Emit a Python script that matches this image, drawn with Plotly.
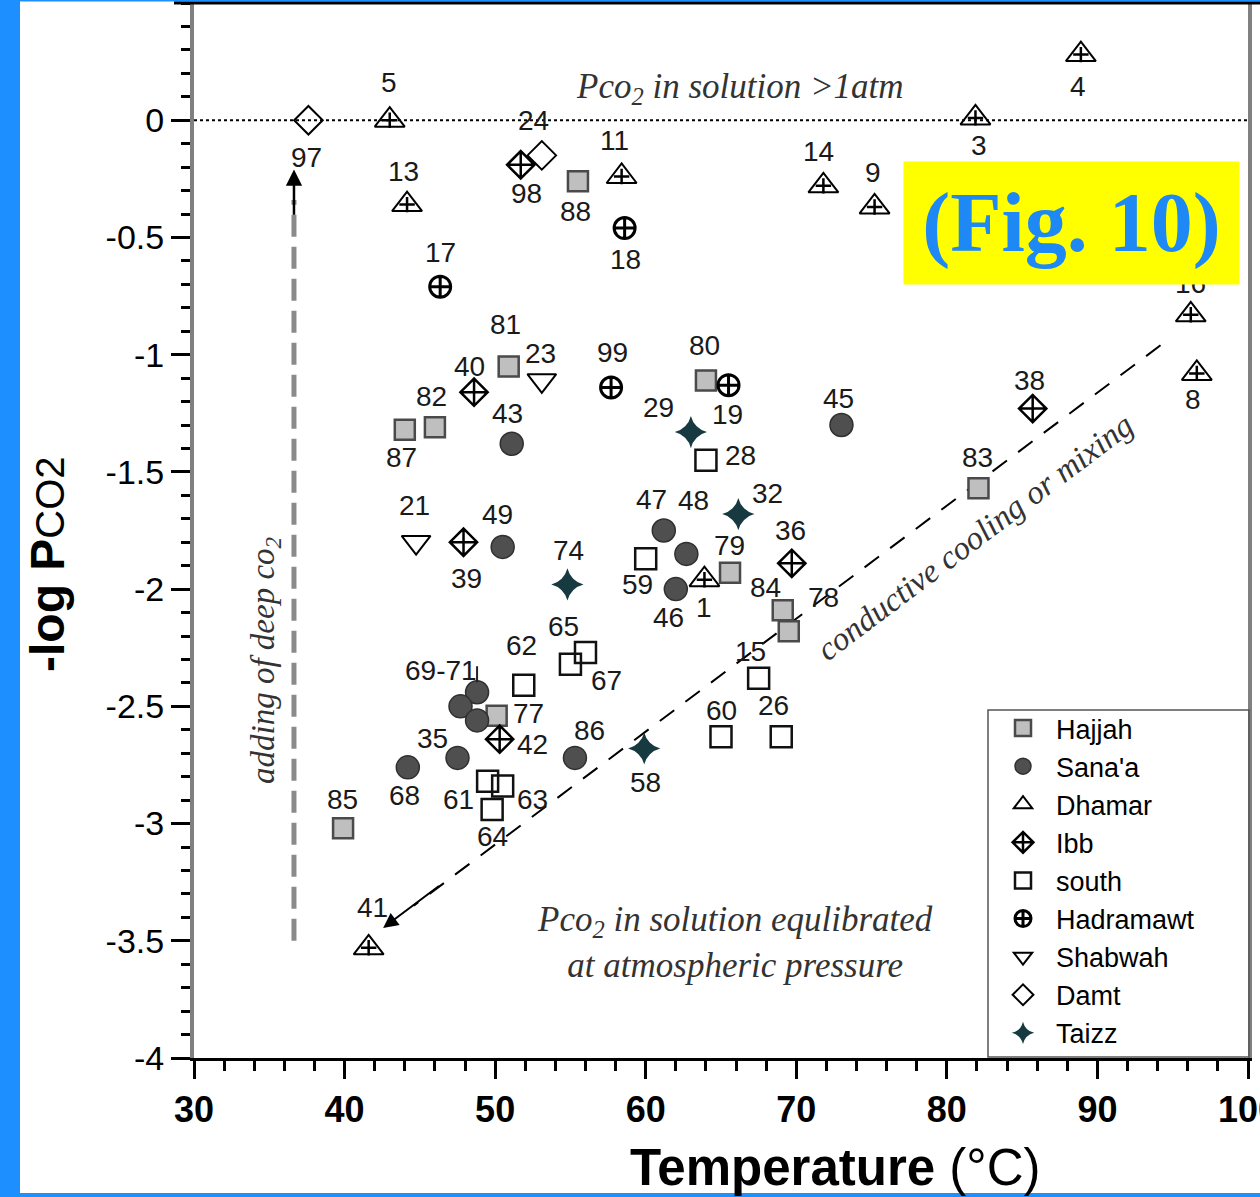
import plotly.graph_objects as go

# ---------------- data ----------------
hajjah_ids = ["88", "81", "82", "87", "80", "79", "84", "78", "83", "77", "85"]
hajjah_t = [55.5, 50.9, 46.0, 44.0, 64.0, 65.6, 69.1, 69.5, 82.1, 50.1, 39.9]
hajjah_p = [-0.26, -1.05, -1.31, -1.32, -1.11, -1.93, -2.09, -2.18, -1.57, -2.54, -3.02]

sanaa_ids = ["43", "49", "47", "48", "46", "45", "69", "70", "71", "35", "68", "86"]
sanaa_t = [51.1, 50.5, 61.2, 62.7, 62.0, 73.0, 48.8, 47.7, 48.8, 47.5, 44.2, 55.3]
sanaa_p = [-1.38, -1.82, -1.75, -1.85, -2.00, -1.30, -2.44, -2.50, -2.56, -2.72, -2.76, -2.72]

dhamar_ids = ["5", "13", "11", "14", "9", "3", "4", "16", "8", "1", "41"]
dhamar_t = [43.0, 44.15, 58.4, 71.8, 75.2, 81.9, 88.9, 96.2, 96.6, 63.9, 41.6]
dhamar_p = [0.0, -0.36, -0.24, -0.28, -0.37, 0.01, 0.28, -0.83, -1.08, -1.96, -3.53]

ibb_ids = ["98", "40", "39", "42", "36", "38"]
ibb_t = [51.7, 48.6, 47.9, 50.3, 69.7, 85.7]
ibb_p = [-0.19, -1.16, -1.80, -2.64, -1.89, -1.23]

south_ids = ["28", "59", "65", "67", "62", "61", "63", "64", "15", "60", "26"]
south_t = [64.0, 60.0, 56.0, 55.0, 51.9, 49.5, 50.5, 49.8, 67.5, 65.0, 69.0]
south_p = [-1.45, -1.87, -2.27, -2.32, -2.41, -2.82, -2.84, -2.94, -2.38, -2.63, -2.63]

hadramawt_ids = ["18", "17", "99", "19"]
hadramawt_t = [58.6, 46.35, 57.7, 65.5]
hadramawt_p = [-0.46, -0.71, -1.14, -1.13]

shabwah_ids = ["23", "21"]
shabwah_t = [53.1, 44.75]
shabwah_p = [-1.11, -1.80]

damt_ids = ["97", "24"]
damt_t = [37.6, 53.1]
damt_p = [0.0, -0.15]

taizz_ids = ["29", "32", "74", "58"]
taizz_t = [63.0, 66.15, 54.8, 59.9]
taizz_p = [-1.33, -1.68, -1.98, -2.68]

x_tick_vals = [30, 40, 50, 60, 70, 80, 90, 100]
x_tick_text = ["30", "40", "50", "60", "70", "80", "90", "100"]
y_tick_vals = [0, -0.5, -1, -1.5, -2, -2.5, -3, -3.5, -4]
y_tick_text = ["0", "-0.5", "-1", "-1.5", "-2", "-2.5", "-3", "-3.5", "-4"]

# label text overrides (the 69-71 cluster carries one label)
label_text = {"69": "69-71", "70": "", "71": ""}

# ---------------- layout / style ----------------
W, H = 1260, 1197
ML, MR, MT, MB = 194, 12, 3, 139
PW, PH = W - ML - MR, H - MT - MB


def px(xp):
    return (xp - ML) / PW


def py(yp):
    return 1 - (yp - MT) / PH


# label offsets in pixels (dx, dy up)
label_offsets = {
    "88": (-2, -30), "81": (-3, 42), "82": (-3, 31), "87": (-3, -28), "80": (-1, 35),
    "79": (-1, 27), "84": (-17, 23), "78": (35, 34), "83": (-1, 31), "77": (32, 2),
    "85": (-1, 29),
    "43": (-4, 30), "49": (-5, 32), "47": (-12, 31), "48": (7, 53), "46": (-7, -28),
    "45": (-3, 27), "69": (-36, 22), "70": (0, 0), "71": (0, 0), "35": (-25, 19),
    "68": (-3, -28), "86": (15, 27),
    "5": (-1, 38), "13": (-4, 33), "11": (-7, 36), "14": (-5, 34), "9": (-2, 34),
    "3": (4, -28), "4": (-3, -32), "16": (0, 31), "8": (-4, -26), "1": (0, -28),
    "41": (4, 40),
    "98": (6, -29), "40": (-5, 26), "39": (3, -36), "42": (33, -5), "36": (-1, 33),
    "38": (-3, 28),
    "28": (35, 5), "59": (-8, -26), "65": (-22, 26), "67": (36, -16), "62": (-2, 40),
    "61": (-29, -18), "63": (30, -13), "64": (0, -27), "15": (-8, 27), "60": (0, 26),
    "26": (-8, 31),
    "18": (1, -31), "17": (0, 34), "99": (1, 35), "19": (-1, -29),
    "23": (-1, 27), "21": (-2, 37),
    "97": (-2, -37), "24": (-8, 35),
    "29": (-32, 25), "32": (29, 21), "74": (1, 34), "58": (1, -34),
}

series = [
    ("Hajjah", hajjah_ids, hajjah_t, hajjah_p,
     dict(symbol="square", size=20, color="#bfbfbf", line=dict(color="#4a4a4a", width=2.5))),
    ("Sana'a", sanaa_ids, sanaa_t, sanaa_p,
     dict(symbol="circle", size=23, color="#4f4f4f", line=dict(color="#303030", width=1.5))),
    ("Dhamar", dhamar_ids, dhamar_t, dhamar_p,
     dict(symbol="triangle-up-open", size=26, color="black", line=dict(color="black", width=2))),
    ("Ibb", ibb_ids, ibb_t, ibb_p,
     dict(symbol="diamond-cross-open", size=21, color="black", line=dict(color="black", width=2.5))),
    ("south", south_ids, south_t, south_p,
     dict(symbol="square-open", size=21, color="#111111", line=dict(color="#111111", width=2.5))),
    ("Hadramawt", hadramawt_ids, hadramawt_t, hadramawt_p,
     dict(symbol="circle-cross-open", size=21, color="black", line=dict(color="black", width=3))),
    ("Shabwah", shabwah_ids, shabwah_t, shabwah_p,
     dict(symbol="triangle-down-open", size=25, color="black", line=dict(color="black", width=2))),
    ("Damt", damt_ids, damt_t, damt_p,
     dict(symbol="diamond-open", size=22, color="black", line=dict(color="black", width=2))),
    ("Taizz", taizz_ids, taizz_t, taizz_p,
     dict(symbol="star-diamond", size=23, color="#173a40", line=dict(color="#173a40", width=0))),
]

fig = go.Figure()
for name, ids, t, p, mk in series:
    fig.add_trace(go.Scatter(x=t, y=p, mode="markers", name=name, marker=mk,
                             legendgroup=name, hoverinfo="skip"))
    if name == "Dhamar":
        fig.add_trace(go.Scatter(x=t, y=p, mode="markers", showlegend=False,
                                 legendgroup=name, hoverinfo="skip",
                                 marker=dict(symbol="cross-thin-open", size=11, color="black",
                                             line=dict(color="black", width=2.5))))

annotations = []
label_font = dict(family="Liberation Sans, Arial, sans-serif", size=28, color="#1a1a1a")
for name, ids, t, p, mk in series:
    for i, xv, yv in zip(ids, t, p):
        txt = label_text.get(i, i)
        if not txt:
            continue
        dx, dy = label_offsets[i]
        annotations.append(dict(x=xv, y=yv, text=txt, showarrow=False, xshift=dx, yshift=dy,
                                xanchor="center", yanchor="middle", font=label_font))

# leader for 69-71
annotations.append(dict(x=sanaa_t[6], y=sanaa_p[6], text=" ", showarrow=True, ax=0, ay=-30,
                        arrowhead=0, arrowwidth=2, arrowcolor="#222", standoff=10,
                        font=dict(size=4)))

serif_it = dict(family="Liberation Serif, Times New Roman, serif", size=35, color="#333333")


def pa(xp, yp, text, font, **kw):
    d = dict(x=px(xp), y=py(yp), xref="paper", yref="paper", showarrow=False, text=text,
             font=font, xanchor="center", yanchor="middle")
    d.update(kw)
    return d


annotations += [
    pa(740, 88, "<i>Pco<sub>2</sub> in solution >1atm</i>", serif_it),
    pa(735, 942, "<i>Pco<sub>2</sub> in solution equlibrated<br>at atmospheric pressure</i>",
       serif_it, align="center"),
    pa(265, 660, "<i>adding of deep co<sub>2</sub></i>", dict(serif_it, size=33), textangle=-90),
    pa(975, 537, "<i>conductive cooling or mixing</i>", dict(serif_it, size=33), textangle=-37),
    # arrow heads
    dict(x=36.64, y=-0.21, ax=36.64, ay=-0.42, xref="x", yref="y", axref="x", ayref="y",
         text=" ", font=dict(size=4), showarrow=True, arrowhead=2, arrowsize=1.3,
         arrowwidth=2.5, arrowcolor="black"),
    dict(x=42.56, y=-3.445, ax=46.4, ay=-3.26, xref="x", yref="y", axref="x", ayref="y",
         text=" ", font=dict(size=4), showarrow=True, arrowhead=2, arrowsize=1.5,
         arrowwidth=2, arrowcolor="black"),
    # axis titles
    pa(835, 1167, "<b>Temperature</b> (°C)",
       dict(family="Liberation Sans, Arial, sans-serif", size=51, color="black")),
    pa(47, 564, "<b>-log P</b><span style='font-size:40px'>CO2</span>",
       dict(family="Liberation Sans, Arial, sans-serif", size=48, color="black"), textangle=-90),
    # yellow badge
    pa(1071.5, 223, "<b>(Fig. 10)</b>",
       dict(family="Liberation Serif, Times New Roman, serif", size=84, color="#1e88f5"),
       bgcolor="#ffff00", width=335, height=122, borderpad=0),
]

shapes = [
    # dotted reference line at 0
    dict(type="line", xref="paper", yref="y", x0=0, x1=1, y0=0, y1=0,
         line=dict(color="black", width=2, dash="dot"), layer="below"),
    # adding of deep CO2 (vertical dashed gray)
    dict(type="line", xref="x", yref="y", x0=36.64, x1=36.64, y0=-3.5, y1=-0.34,
         line=dict(color="#8a8a8a", width=5, dash="22px,10px"), layer="below"),
    # conductive cooling or mixing (dashed)
    dict(type="line", xref="x", yref="y", x0=94.19, y0=-0.96, x1=44.6, y1=-3.35,
         line=dict(color="black", width=2, dash="18px,14px"), layer="below"),
    # legend frame
    dict(type="rect", xref="paper", yref="paper", x0=px(988), x1=px(1249), y0=py(1057),
         y1=py(710), fillcolor="rgba(0,0,0,0)", line=dict(color="#555555", width=1.5),
         layer="above"),
    # blue frame
    dict(type="rect", xref="paper", yref="paper", x0=px(0), x1=px(20), y0=py(1197), y1=py(0),
         fillcolor="#1e8fff", line=dict(width=0), layer="above"),
    dict(type="rect", xref="paper", yref="paper", x0=px(0), x1=px(1260), y0=py(1197), y1=py(1193),
         fillcolor="#1e8fff", line=dict(width=0), layer="above"),
    dict(type="rect", xref="paper", yref="paper", x0=px(0), x1=px(1260), y0=py(1.5), y1=py(0),
         fillcolor="#1e8fff", line=dict(width=0), layer="above"),
    dict(type="rect", xref="paper", yref="paper", x0=px(174), x1=px(1260), y0=py(4.5), y1=py(1.5),
         fillcolor="black", line=dict(width=0), layer="above"),
]

fig.update_layout(
    width=W, height=H,
    margin=dict(l=ML, r=MR, t=MT, b=MB, autoexpand=False),
    paper_bgcolor="white", plot_bgcolor="white",
    showlegend=True, hovermode=False,
    legend=dict(x=px(990), y=py(704), xanchor="left", yanchor="top", bgcolor="rgba(0,0,0,0)",
                borderwidth=0, tracegroupgap=0, itemwidth=56,
                font=dict(family="Liberation Sans, Arial, sans-serif", size=27, color="black")),
    annotations=annotations,
    shapes=shapes,
    xaxis=dict(range=[30, 100], tickvals=x_tick_vals, ticktext=x_tick_text,
               ticklabeloverflow="allow", automargin=False,
               showgrid=False, zeroline=False, showline=True, linecolor="black", linewidth=3,
               ticks="outside", ticklen=18, tickwidth=2.5, tickcolor="black",
               minor=dict(dtick=2, tick0=30, ticks="outside", ticklen=10, tickwidth=2.5,
                          tickcolor="black", showgrid=False),
               tickfont=dict(family="Liberation Sans, Arial, sans-serif", size=36,
                             color="black", weight="bold")),
    yaxis=dict(range=[-4, 0.5], tickvals=y_tick_vals, ticktext=y_tick_text,
               automargin=False,
               showgrid=False, zeroline=False, showline=True, linecolor="#808080", linewidth=4,
               mirror=True,
               ticks="outside", ticklen=19, tickwidth=2.5, tickcolor="black",
               minor=dict(dtick=0.1, tick0=0, ticks="outside", ticklen=9, tickwidth=2.5,
                          tickcolor="black", showgrid=False),
               tickfont=dict(family="Liberation Sans, Arial, sans-serif", size=34, color="black")),
)

fig.write_html("out.html", config={"displayModeBar": False},
               post_script="document.body.style.margin='0px';")
